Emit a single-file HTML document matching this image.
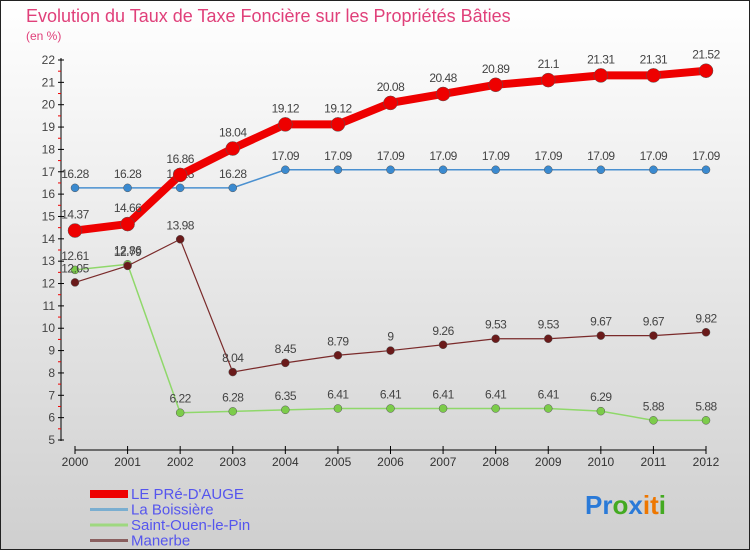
<!DOCTYPE html>
<html><head><meta charset="utf-8"><style>
body{margin:0;width:750px;height:550px;overflow:hidden;font-family:"Liberation Sans",sans-serif}
#c{position:absolute;left:0;top:0;width:748px;height:548px;border:1px solid #222;background:linear-gradient(#fff,#cfcfcf)}
</style></head><body>
<div id="c">
<svg id="s" width="750" height="550" style="position:absolute;left:-1px;top:-1px"></svg>
</div>
<script>
const years=[2000,2001,2002,2003,2004,2005,2006,2007,2008,2009,2010,2011,2012];
const lePre=[14.37,14.66,16.86,18.04,19.12,19.12,20.08,20.48,20.89,21.1,21.31,21.31,21.52];
const boissiere=[16.28,16.28,16.28,16.28,17.09,17.09,17.09,17.09,17.09,17.09,17.09,17.09,17.09];
const saintOuen=[12.61,12.86,6.22,6.28,6.35,6.41,6.41,6.41,6.41,6.41,6.29,5.88,5.88];
const manerbe=[12.05,12.79,13.98,8.04,8.45,8.79,9,9.26,9.53,9.53,9.67,9.67,9.82];
const yTicks=[5,6,7,8,9,10,11,12,13,14,15,16,17,18,19,20,21,22];
const names=["LE PRé-D'AUGE","La Boissière","Saint-Ouen-le-Pin","Manerbe"];
const ns="http://www.w3.org/2000/svg",s=document.getElementById('s');
const X=i=>75+i*(706-75)/12, Y=v=>440-(v-5)*(380/17);
function el(t,a,p){const e=document.createElementNS(ns,t);for(const k in a)e.setAttribute(k,a[k]);(p||s).appendChild(e);return e;}
function tx(x,y,str,a){const e=el('text',Object.assign({x:x,y:y,'font-size':12,fill:'#333'},a||{}));e.textContent=str;return e;}
let t=tx(26,22,'Evolution du Taux de Taxe Foncière sur les Propriétés Bâties',{'font-size':18,fill:'#e0407a'});

t=tx(26,40,'(en %)',{'font-size':12,fill:'#e0407a'});

let a=el('line',{x1:61,y1:58,x2:61,y2:441,stroke:'#000'});

yTicks.forEach(v=>{el('line',{x1:58,x2:64,y1:Y(v),y2:Y(v),stroke:'#000'});
 if(v<22)el('line',{x1:58,x2:61,y1:Y(v+0.5),y2:Y(v+0.5),stroke:'#e00'});
 const l=tx(55,Y(v)+4,v,{'text-anchor':'end','font-size':12,fill:'#444'});
 });
a=el('line',{x1:X(0),y1:450,x2:X(12),y2:450,stroke:'#000'});

years.forEach((yr,i)=>{el('line',{x1:X(i),x2:X(i),y1:446,y2:454,stroke:'#000'});
 const l=tx(X(i),466,yr,{'text-anchor':'middle','font-size':12,fill:'#333'});
 });
function series(d,col,w,r,fill,name,dy){
 const g=el('g',{});
 el('polyline',{points:d.map((v,i)=>X(i)+','+Y(v)).join(' '),fill:'none',stroke:col,'stroke-width':w},g);
 d.forEach((v,i)=>{const c=el('circle',{cx:X(i),cy:Y(v),r:r,fill:fill,stroke:'#555','stroke-width':0.5},g);
  
  tx(X(i),Y(v)+dy,v,{'text-anchor':'middle','font-size':12,fill:'#444','letter-spacing':'-0.5'},g);});
}
series(boissiere,'#4a90d0',1.5,4,'#3a8ad0','series-la-boissiere',-10);
series(saintOuen,'#8fd86a',1.5,4,'#7ccc4a','series-saint-ouen-le-pin',-10);
series(manerbe,'#7a2a2a',1.2,4,'#6a1a1a','series-manerbe',-10);
series(lePre,'#ee0000',8,7,'#ee0000','series-le-pre-d-auge',-12);
const cols=['#ee0000','#7aaed0','#9ed880','#8a6060'],ws=[8,3,3,3];
names.forEach((n,i)=>{const g=el('g',{});
 el('line',{x1:90,x2:128,y1:494+i*15.5,y2:494+i*15.5,stroke:cols[i],'stroke-width':ws[i]},g);
 tx(131,499+i*15.5,n,{'font-size':15,fill:'#5555ee'},g);});
const logo=el('text',{x:585,y:514,'font-size':26,'font-weight':'bold'});

[['P','#2a7ad8'],['r','#2a7ad8'],['o','#44aa22'],['x','#2a7ad8'],['i','#ee7700'],['t','#ee7700'],['i','#44aa22']].forEach(([c,f])=>{const sp=el('tspan',{fill:f},logo);sp.textContent=c;});
</script>
</body></html>
